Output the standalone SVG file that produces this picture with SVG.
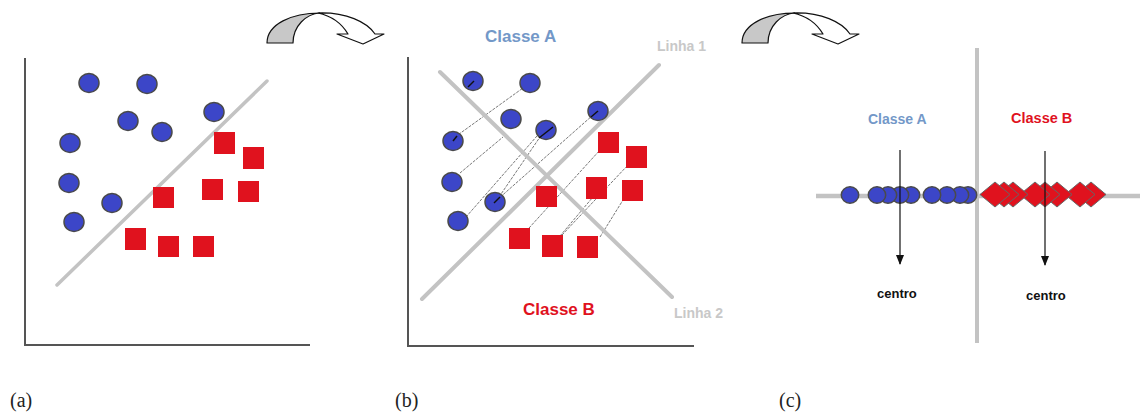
<svg xmlns="http://www.w3.org/2000/svg" width="1140" height="414" viewBox="0 0 1140 414">
<defs>
<style>
.ax{stroke:#555;stroke-width:2;fill:none}
.gl{stroke:#c3c3c3;stroke-width:3.5;fill:none;stroke-linecap:round}
.bc{fill:#3c46c8;stroke:#4a4a4a;stroke-width:1.5}
.rs{fill:#e0121e}
.rd{fill:#e0121e;stroke:#666;stroke-width:1}
.pl{stroke:#555;stroke-width:0.8;stroke-dasharray:3 1.2;fill:none}
.dk{stroke:#111;stroke-width:1.5}
.lbl{font-family:"Liberation Serif","DejaVu Serif",serif;font-size:20px;fill:#222}
.ta{font-family:"Liberation Sans",Arial,sans-serif;font-weight:bold;fill:#7398c8}
.tb{font-family:"Liberation Sans",Arial,sans-serif;font-weight:bold;fill:#e0121e}
.tl{font-family:"Liberation Sans",Arial,sans-serif;font-weight:bold;fill:#c8c8c8;font-size:14px}
.tc{font-family:"Liberation Sans",Arial,sans-serif;font-weight:bold;fill:#111;font-size:13px}
.aw{fill:#fff;stroke:#111;stroke-width:1.2;stroke-linejoin:round}
.ag{fill:#c8c8c8;stroke:#111;stroke-width:1.2;stroke-linejoin:round}
</style>
<g id="curvedArrow">
<path class="aw" d="M318,13 C346,12 367,22 375,34 L384,34 L363,44 L337,34 L348,34 C342,24 332,16 318,13 Z"/>
<path class="ag" d="M267,43 C267,24 292,13 320,13 C306,14 293,26 293,43 Z"/>
</g>
<path id="dia" d="M-15,0 L0,-12.5 L15,0 L0,12.5 Z"/>
<marker id="ah" markerWidth="10" markerHeight="8" refX="9" refY="4" orient="auto" markerUnits="userSpaceOnUse">
<path d="M0,0 L10,4 L0,8 Z" fill="#111"/>
</marker>
</defs>
<rect width="1140" height="414" fill="#fff"/>

<g id="arrows">
<use href="#curvedArrow"/>
<use href="#curvedArrow" x="475"/>
</g>

<!-- Panel (a) -->
<g id="panel-a">
<path class="ax" d="M25,58 V345 H310"/>
<line class="gl" x1="57" y1="285" x2="267" y2="81"/>
<g id="a-circles">
<ellipse class="bc" cx="89" cy="83" rx="10" ry="9.5"/>
<ellipse class="bc" cx="147" cy="84" rx="10" ry="9.5"/>
<ellipse class="bc" cx="128" cy="121" rx="10" ry="9.5"/>
<ellipse class="bc" cx="162" cy="132" rx="10" ry="9.5"/>
<ellipse class="bc" cx="214" cy="112" rx="10" ry="9.5"/>
<ellipse class="bc" cx="70" cy="143" rx="10" ry="9.5"/>
<ellipse class="bc" cx="69" cy="183" rx="10" ry="9.5"/>
<ellipse class="bc" cx="112" cy="203" rx="10" ry="9.5"/>
<ellipse class="bc" cx="74" cy="222" rx="10" ry="9.5"/>
</g>
<g id="a-squares">
<rect class="rs" x="214" y="132" width="21" height="22"/>
<rect class="rs" x="243" y="147" width="21" height="22"/>
<rect class="rs" x="202" y="179" width="21" height="21"/>
<rect class="rs" x="238" y="181" width="21" height="21"/>
<rect class="rs" x="153" y="187" width="21" height="21"/>
<rect class="rs" x="125" y="228" width="21" height="22"/>
<rect class="rs" x="158" y="236" width="21" height="21"/>
<rect class="rs" x="193" y="236" width="21" height="21"/>
</g>
<text class="lbl" x="10" y="407">(a)</text>
</g>

<!-- Panel (b) -->
<g id="panel-b">
<path class="ax" d="M408,57 V346 H694"/>
<g id="b-projections">
<line class="pl" x1="455" y1="137" x2="523" y2="88"/>
<line class="pl" x1="460" y1="173" x2="503" y2="137"/>
<line class="pl" x1="466" y1="217" x2="537" y2="136"/>
<line class="pl" x1="497" y1="200" x2="593" y2="115"/>
<line class="pl" x1="499" y1="197" x2="540" y2="137"/>
<line class="pl" x1="529" y1="228" x2="600" y2="150"/>
<line class="pl" x1="562" y1="235" x2="628" y2="165"/>
<line class="pl" x1="560" y1="236" x2="593" y2="197"/>
<line class="pl" x1="600" y1="237" x2="623" y2="200"/>
</g>
<line class="gl" x1="422" y1="299" x2="659" y2="65" style="stroke-width:4"/>
<line class="gl" x1="440" y1="72" x2="672" y2="297" style="stroke-width:4"/>
<g id="b-circles">
<ellipse class="bc" cx="473" cy="81" rx="10" ry="9.5"/>
<ellipse class="bc" cx="530" cy="83" rx="10" ry="9.5"/>
<ellipse class="bc" cx="511" cy="119" rx="10" ry="9.5"/>
<ellipse class="bc" cx="546" cy="130" rx="10" ry="9.5"/>
<ellipse class="bc" cx="598" cy="111" rx="10" ry="9.5"/>
<ellipse class="bc" cx="453" cy="141" rx="10" ry="9.5"/>
<ellipse class="bc" cx="452" cy="182" rx="10" ry="9.5"/>
<ellipse class="bc" cx="495" cy="202" rx="10" ry="9.5"/>
<ellipse class="bc" cx="458" cy="221" rx="10" ry="9.5"/>
</g>
<g id="b-dashes">
<line class="dk" x1="468" y1="87" x2="474" y2="81"/>
<line class="dk" x1="453" y1="141" x2="457" y2="136"/>
<line class="dk" x1="539" y1="138" x2="553" y2="127"/>
<line class="dk" x1="494" y1="203" x2="500" y2="197"/>
<line class="dk" x1="591" y1="117" x2="598" y2="111"/>
</g>
<g id="b-squares">
<rect class="rs" x="598" y="132" width="21" height="21"/>
<rect class="rs" x="626" y="146" width="21" height="22"/>
<rect class="rs" x="586" y="177" width="21" height="22"/>
<rect class="rs" x="622" y="180" width="21" height="21"/>
<rect class="rs" x="536" y="186" width="21" height="21"/>
<rect class="rs" x="509" y="228" width="21" height="21"/>
<rect class="rs" x="542" y="235" width="21" height="22"/>
<rect class="rs" x="577" y="236" width="21" height="22"/>
</g>
<text class="ta" x="485" y="42" style="font-size:17px">Classe A</text>
<text class="tl" x="657" y="51">Linha 1</text>
<text class="tb" x="523" y="315" style="font-size:17px">Classe B</text>
<text class="tl" x="674" y="318">Linha 2</text>
<text class="lbl" x="395" y="407">(b)</text>
</g>

<!-- Panel (c) -->
<g id="panel-c">
<line x1="816" y1="196" x2="1140" y2="196" stroke="#c3c3c3" stroke-width="4.5"/>
<line x1="977" y1="48" x2="977" y2="343" stroke="#c3c3c3" stroke-width="4"/>
<g id="c-circles">
<ellipse class="bc" cx="968" cy="195" rx="8.7" ry="8.2"/>
<ellipse class="bc" cx="960" cy="195" rx="8.7" ry="8.2"/>
<ellipse class="bc" cx="947" cy="195" rx="8.7" ry="8.2"/>
<ellipse class="bc" cx="932" cy="195" rx="8.7" ry="8.2"/>
<ellipse class="bc" cx="911" cy="195" rx="8.7" ry="8.2"/>
<ellipse class="bc" cx="900" cy="195" rx="8.7" ry="8.2"/>
<ellipse class="bc" cx="888" cy="195" rx="8.7" ry="8.2"/>
<ellipse class="bc" cx="877" cy="195" rx="8.7" ry="8.2"/>
<ellipse class="bc" cx="850" cy="195" rx="8.7" ry="8.2"/>
</g>
<g id="c-diamonds">
<use href="#dia" class="rd" x="1091" y="194.5"/>
<use href="#dia" class="rd" x="1080" y="194.5"/>
<use href="#dia" class="rd" x="1057" y="194.5"/>
<use href="#dia" class="rd" x="1045" y="194.5"/>
<use href="#dia" class="rd" x="1035" y="194.5"/>
<use href="#dia" class="rd" x="1013" y="194.5"/>
<use href="#dia" class="rd" x="1004" y="194.5"/>
<use href="#dia" class="rd" x="995" y="194.5"/>
</g>
<g id="c-connectors">
<line x1="900" y1="150" x2="900" y2="264" stroke="#111" stroke-width="1.2" marker-end="url(#ah)"/>
<line x1="1045" y1="151" x2="1045" y2="265" stroke="#111" stroke-width="1.2" marker-end="url(#ah)"/>
</g>
<text class="ta" x="868" y="124" style="font-size:14px">Classe A</text>
<text class="tb" x="1011" y="123" style="font-size:14.5px">Classe B</text>
<text class="tc" x="877" y="298">centro</text>
<text class="tc" x="1026" y="300">centro</text>
<text class="lbl" x="779" y="407">(c)</text>
</g>
</svg>
